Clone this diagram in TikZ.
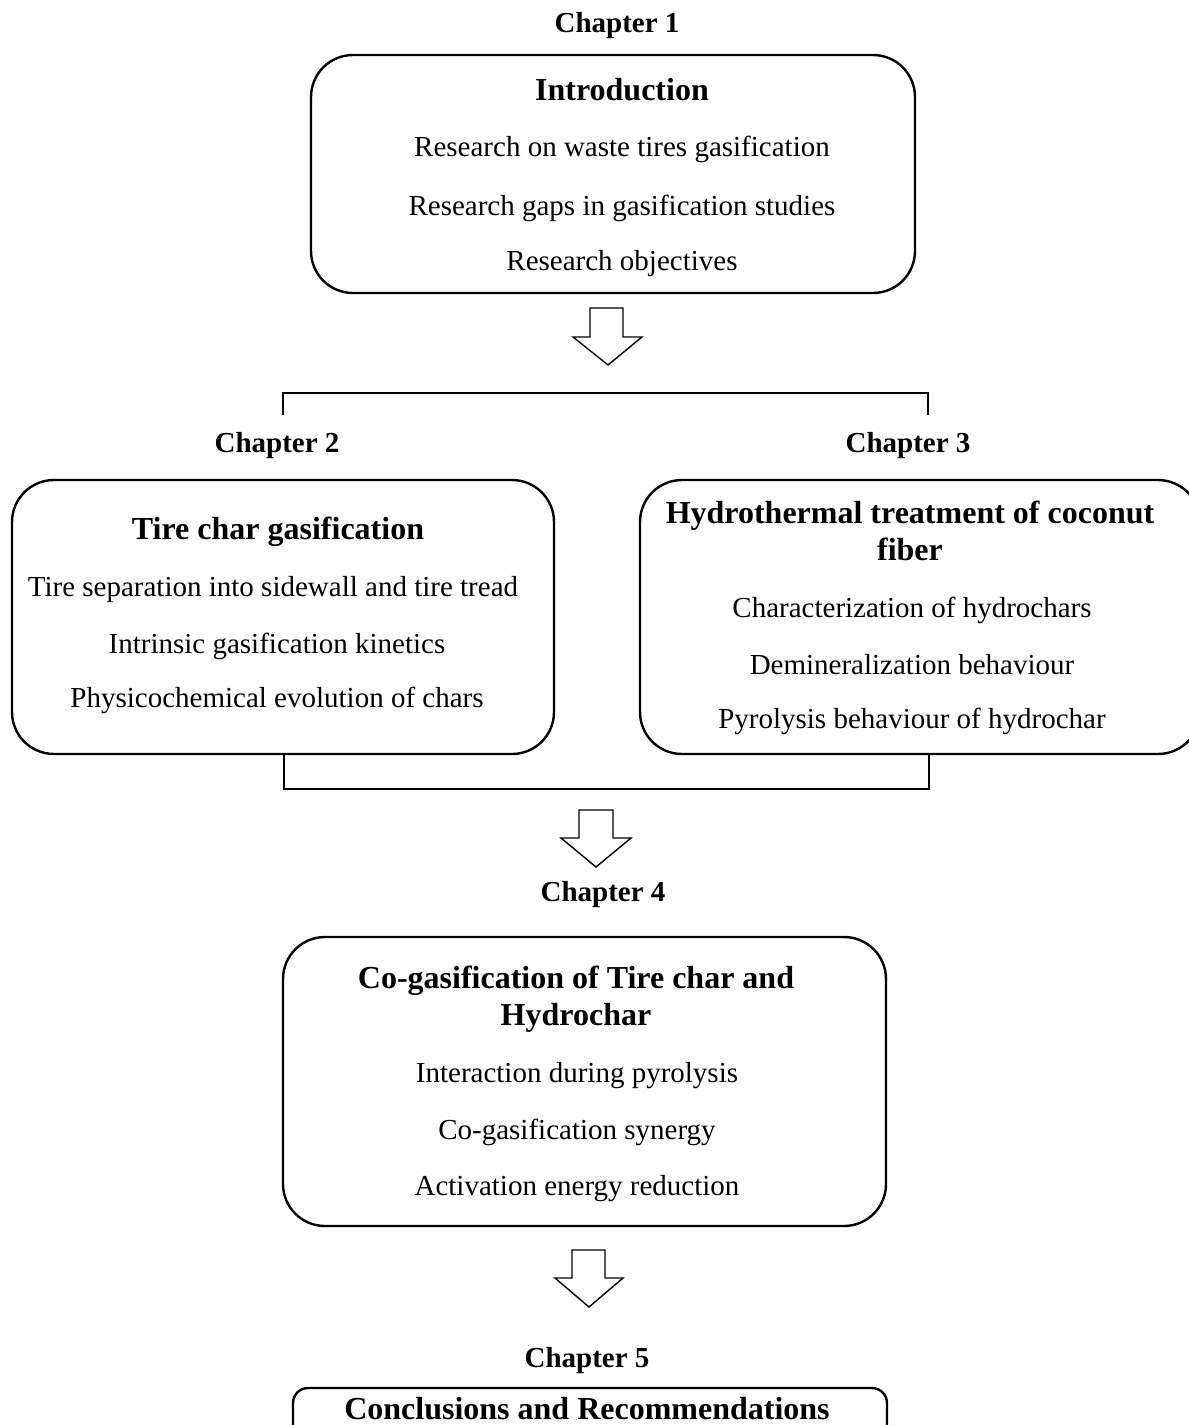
\documentclass[tikz,border=0pt]{standalone}
\usepackage{fontspec}
\setmainfont{Liberation Serif}
\tikzset{
  chapbox/.style={draw, line width=1.2pt, rounded corners=21pt, inner sep=0pt},
  chaplabel/.style={font=\fontsize{14.5}{17}\selectfont\bfseries, yshift=-1pt},
  boxtitle/.style={font=\fontsize{16}{18.5}\selectfont\bfseries, align=center, yshift=-1pt},
  item/.style={font=\fontsize{14.5}{17}\selectfont, yshift=-1pt},
  hollow/.style={draw, line width=0.7pt, fill=white},
  bracket/.style={draw, line width=1pt},
}
\begin{document}
\begin{tikzpicture}[x=0.5pt,y=-0.5pt]
  \useasboundingbox (0,0) rectangle (1189,1425);
  \clip (0,0) rectangle (1189,1425);
  % chapter 1
  \node[chaplabel] (c1) at (617,24) {Chapter 1};
  \node[chapbox, minimum width=302pt, minimum height=119pt] (b1) at (613,174) {};
  \node[boxtitle] (t1) at (622,88) {Introduction};
  \node[item] (i11) at (622,147) {Research on waste tires gasification};
  \node[item] (i12) at (622,206) {Research gaps in gasification studies};
  \node[item] (i13) at (622,262) {Research objectives};
  \draw[hollow] (590,308) -- (623,308) -- (623,337) -- (642,337) -- (608,365) -- (573,337) -- (590,337) -- cycle;
  \draw[bracket] (283,415) -- (283,393) -- (928,393) -- (928,415);
  % chapters 2 and 3
  \node[chaplabel] (c2) at (277,444) {Chapter 2};
  \node[chaplabel] (c3) at (908,444) {Chapter 3};
  \node[chapbox, minimum width=271pt, minimum height=137pt] (b2) at (283,617) {};
  \node[chapbox, minimum width=280pt, minimum height=137pt] (b3) at (920,617) {};
  \node[boxtitle] (t2) at (278,530) {Tire char gasification};
  \node[item] (i21) at (273,588) {Tire separation into sidewall and tire tread};
  \node[item] (i22) at (277,644) {Intrinsic gasification kinetics};
  \node[item] (i23) at (277,698) {Physicochemical evolution of chars};
  \node[boxtitle] (t3) at (910,529) {Hydrothermal treatment of coconut\\fiber};
  \node[item] (i31) at (912,608) {Characterization of hydrochars};
  \node[item] (i32) at (912,663) {Demineralization behaviour};
  \node[item] (i33) at (912,719) {Pyrolysis behaviour of hydrochar};
  \draw[bracket] (284,755) -- (284,789) -- (929,789) -- (929,755);
  \draw[hollow] (579,810) -- (613,810) -- (613,838) -- (631,838) -- (596,867) -- (561,838) -- (579,838) -- cycle;
  % chapter 4
  \node[chaplabel] (c4) at (603,893) {Chapter 4};
  \node[chapbox, minimum width=301.5pt, minimum height=144.5pt] (b4) at (584.5,1081.5) {};
  \node[boxtitle] (t4) at (576,997) {Co-gasification of Tire char and\\Hydrochar};
  \node[item] (i41) at (577,1074) {Interaction during pyrolysis};
  \node[item] (i42) at (577,1130) {Co-gasification synergy};
  \node[item] (i43) at (577,1187) {Activation energy reduction};
  \draw[hollow] (572,1250) -- (605,1250) -- (605,1278) -- (623,1278) -- (589,1307) -- (555,1278) -- (572,1278) -- cycle;
  % chapter 5
  \node[chaplabel] (c5) at (587,1359) {Chapter 5};
  \node[chapbox, rounded corners=7.5pt, minimum width=297pt, minimum height=31pt] (b5) at (590,1419) {};
  \node[boxtitle] (t5) at (587,1407) {Conclusions and Recommendations};
\end{tikzpicture}
\end{document}
